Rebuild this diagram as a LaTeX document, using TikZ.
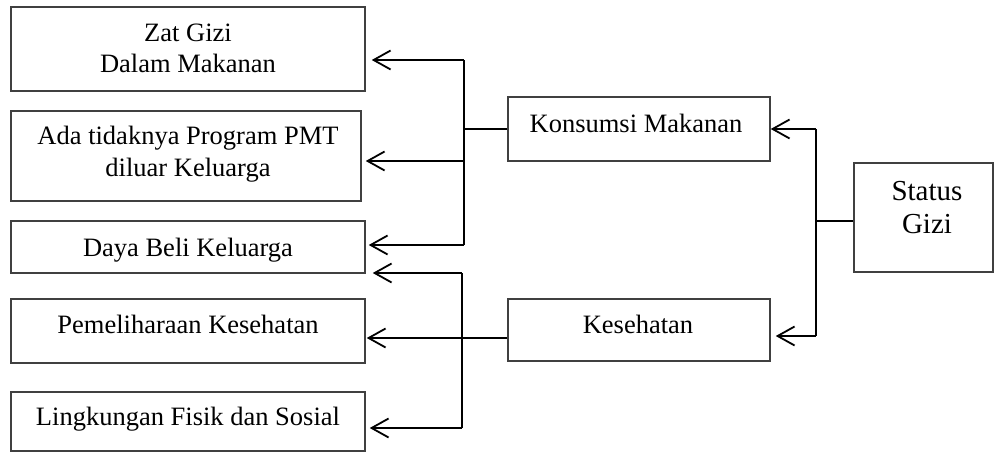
\documentclass[tikz,border=0pt]{standalone}
\usepackage{fontspec}
\setmainfont{Liberation Serif}
\usetikzlibrary{arrows.meta,fit}
\begin{document}
\begin{tikzpicture}[x=1pt,y=-1pt,
  box/.style={draw=black!75,line width=1.5pt,inner sep=0pt},
  lbl/.style={anchor=base,inner sep=0pt,font=\fontsize{26.5}{31}\selectfont},
  biglbl/.style={lbl,font=\fontsize{29}{34}\selectfont},
  link/.style={draw=black,line width=2pt},
  arr/.style={link,-{Straight Barb[length=17pt,width=19pt,line width=1.8pt]}}]
\useasboundingbox (0,0) rectangle (994,452);

% factor boxes on the left
\node[box,fit={(11,7) (365,91)}]    (b1) {};
\node[box,fit={(11,111) (361,201)}] (b2) {};
\node[box,fit={(11,221) (365,273)}] (b3) {};
\node[box,fit={(11,299) (365,363)}] (b4) {};
\node[box,fit={(11,392) (365,451)}] (b5) {};

\node[lbl] (t1a) at (188,41.7) {Zat Gizi};
\node[lbl] (t1b) at (188,73)   {Dalam Makanan};
\node[lbl] (t2a) at (188,144.3){Ada tidaknya Program PMT};
\node[lbl] (t2b) at (188,176)  {diluar Keluarga};
\node[lbl] (t3)  at (188,256.7){Daya Beli Keluarga};
\node[lbl] (t4)  at (188,333)  {Pemeliharaan Kesehatan};
\node[lbl] (t5)  at (188,425)  {Lingkungan Fisik dan Sosial};

% middle boxes
\node[box,fit={(508,97) (770,161)}]  (k) {};
\node[box,fit={(508,299) (770,361)}] (h) {};
\node[lbl] (tk) at (636,132) {Konsumsi Makanan};
\node[lbl] (th) at (638,333) {Kesehatan};

% outcome box
\node[box,fit={(854,163) (993,272)}] (s) {};
\node[biglbl] (ts1) at (927,200) {Status};
\node[biglbl] (ts2) at (927,233) {Gizi};

% branch from Konsumsi Makanan
\coordinate (ja1) at (464,60);
\coordinate (jam) at (464,161);
\coordinate (ja2) at (464,245);
\draw[link] (ja1) -- (ja2);
\draw[link] (k.west) -- (k.west -| ja1);
\draw[arr,shorten >=6pt] (ja1) -- (b1.east |- ja1);
\draw[arr,shorten >=4pt] (jam) -- (b2.east |- jam);
\draw[arr,shorten >=3pt] (ja2) -- (b3.east |- ja2);

% branch from Kesehatan
\coordinate (jb1) at (462,273);
\coordinate (jb2) at (462,428);
\draw[link] (jb1) -- (jb2);
\draw[arr,shorten >=7pt] (jb1) -- (b3.east |- jb1);
\draw[arr,shorten >=1pt] ([yshift=-8pt]h.west) -- (b4.east |- 0,338);
\draw[arr,shorten >=4pt] (jb2) -- (b5.east |- jb2);

% branch from Status Gizi
\coordinate (jc1) at (816,129);
\coordinate (jc2) at (816,336);
\draw[link] (jc1) -- (jc2);
\draw[link] ([yshift=-3pt]s.west) -- ([yshift=-3pt]s.west -| jc1);
\draw[arr] (jc1) -- (k.east |- jc1);
\draw[arr,shorten >=5pt] (jc2) -- (h.east |- jc2);
\end{tikzpicture}
\end{document}
